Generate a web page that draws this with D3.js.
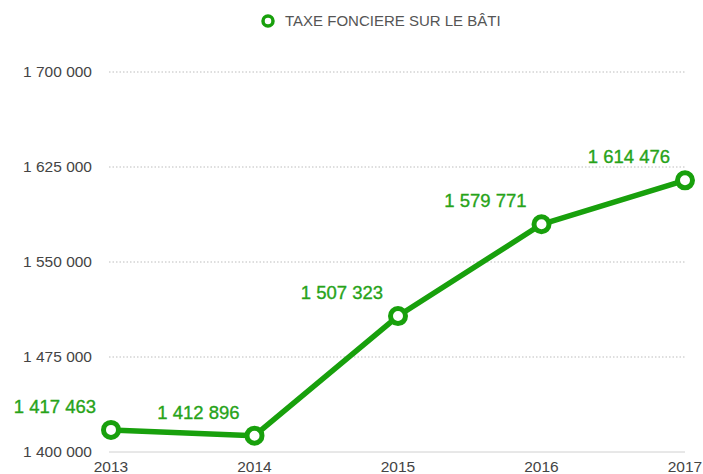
<!DOCTYPE html>
<html><head><meta charset="utf-8">
<script src="https://cdn.jsdelivr.net/npm/d3@7"></script>
<style>body{margin:0;background:#fff}svg{display:block}</style>
</head><body><svg id="c" width="703" height="474"></svg>
<script>
const years = ["2013","2014","2015","2016","2017"];
const values = [1417463, 1412896, 1507323, 1579771, 1614476];
const labels = ["1 417 463","1 412 896","1 507 323","1 579 771","1 614 476"];
const yTicks = [1400000, 1475000, 1550000, 1625000, 1700000];
const yTickLabels = ["1 400 000","1 475 000","1 550 000","1 625 000","1 700 000"];
const seriesName = "TAXE FONCIERE SUR LE BÂTI";

const svg = d3.select("#c");
const font = "'Liberation Sans', Arial, sans-serif";
const green = "#18a00c";
const labelGreen = "#27a319";
const x = d3.scalePoint().domain(years).range([111, 685]);
const y = d3.scaleLinear().domain([1400000, 1700000]).range([452, 72]);

// grid
svg.append("g").selectAll("line").data(yTicks).join("line")
  .attr("x1", 109).attr("x2", 685)
  .attr("y1", d => y(d)).attr("y2", d => y(d))
  .attr("stroke", d => d === 1400000 ? "#d0d0d0" : "#bdbdbd")
  .attr("stroke-width", 1)
  .attr("stroke-dasharray", d => d === 1400000 ? null : "1.5,2");

// y labels
svg.append("g").selectAll("text").data(yTicks).join("text")
  .attr("x", 92).attr("y", d => y(d)).attr("dy", "0.35em")
  .attr("text-anchor", "end").attr("font-family", font).attr("font-size", 15.5)
  .attr("fill", "#444").text((d, i) => yTickLabels[i]);

// x labels
svg.append("g").selectAll("text").data(years).join("text")
  .attr("x", d => x(d)).attr("y", 472)
  .attr("text-anchor", "middle").attr("font-family", font).attr("font-size", 15.5)
  .attr("fill", "#444").text(d => d);

// line
const line = d3.line().x((d, i) => x(years[i])).y(d => y(d));
svg.append("path").datum(values).attr("d", line)
  .attr("fill", "none").attr("stroke", green).attr("stroke-width", 5.5)
  .attr("stroke-linejoin", "round");

// markers
svg.append("g").selectAll("circle").data(values).join("circle")
  .attr("cx", (d, i) => x(years[i])).attr("cy", d => y(d)).attr("r", 7.5)
  .attr("fill", "#fff").attr("stroke", green).attr("stroke-width", 5);

// data labels
svg.append("g").selectAll("text").data(values).join("text")
  .attr("x", (d, i) => x(years[i]) - 56).attr("y", d => y(d) - 17)
  .attr("text-anchor", "middle").attr("font-family", font).attr("font-size", 18.5)
  .attr("fill", labelGreen).attr("stroke", labelGreen).attr("stroke-width", 0.35)
  .text((d, i) => labels[i]);

// legend
const lg = svg.append("g");
lg.append("circle").attr("cx", 268).attr("cy", 21).attr("r", 5)
  .attr("fill", "#fff").attr("stroke", green).attr("stroke-width", 3.5);
lg.append("text").attr("x", 285).attr("y", 21).attr("dy", "0.35em")
  .attr("font-family", font).attr("font-size", 15).attr("fill", "#555").text(seriesName);
</script></body></html>
